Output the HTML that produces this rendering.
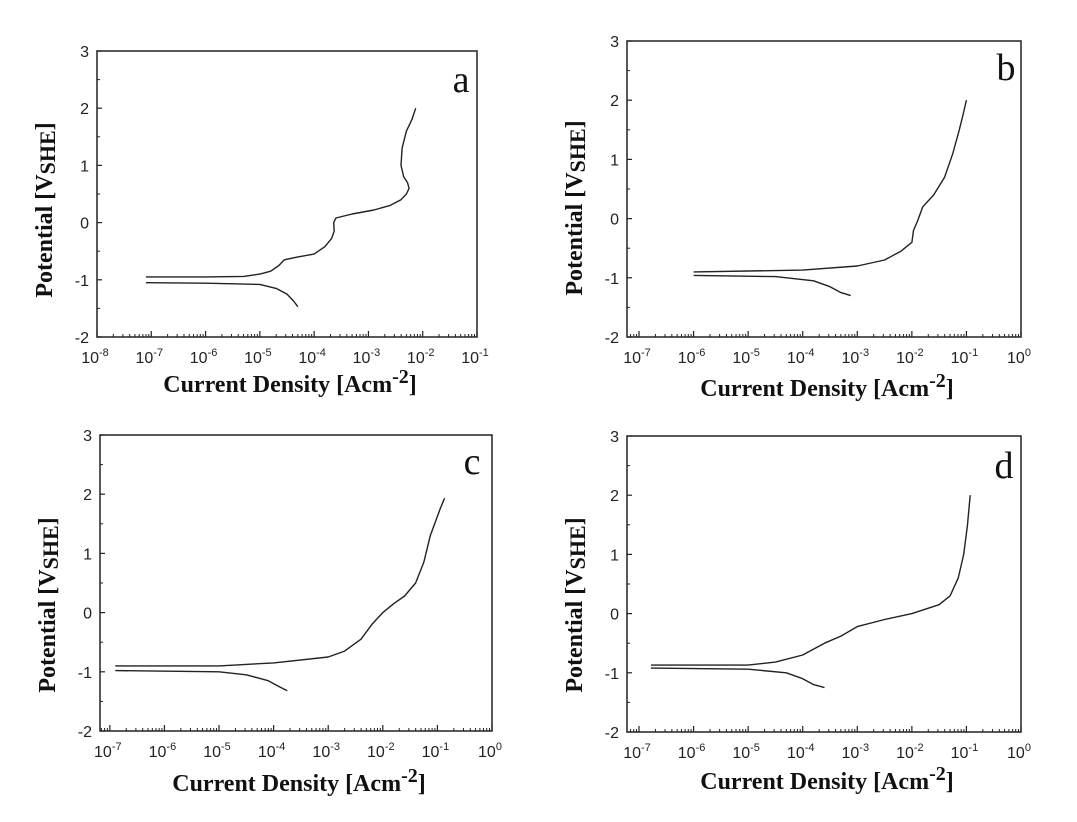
<!DOCTYPE html>
<html><head><meta charset="utf-8">
<style>
html,body{margin:0;padding:0;background:#fff;}
svg{display:block;}
.tick{font-family:"Liberation Sans",sans-serif;font-size:16px;fill:#222;}
.title{font-family:"Liberation Serif",serif;font-weight:bold;font-size:24px;fill:#111;}
.letter{font-family:"Liberation Serif",serif;font-size:38px;fill:#111;}
</style></head>
<body>
<svg id="fig" width="1077" height="822" viewBox="0 0 1077 822" xmlns="http://www.w3.org/2000/svg"></svg>
<script>
// Panel a data (log10 current, potential V)
const aUpperX = [-7.1,-6,-5.3,-5.0,-4.8,-4.65,-4.55,-4.3,-4.0,-3.8,-3.68,-3.63,-3.64,-3.6,-3.3,-2.9,-2.6,-2.4,-2.3,-2.25,-2.28,-2.35,-2.4,-2.38,-2.3,-2.2,-2.13];
const aUpperY = [-0.95,-0.95,-0.94,-0.9,-0.85,-0.75,-0.65,-0.6,-0.55,-0.42,-0.28,-0.15,0.0,0.08,0.15,0.22,0.3,0.4,0.5,0.6,0.7,0.8,1.0,1.3,1.6,1.8,2.0];
const aLowerX = [-7.1,-6,-5,-4.7,-4.5,-4.38,-4.3];
const aLowerY = [-1.05,-1.06,-1.08,-1.15,-1.25,-1.37,-1.47];
// Panel b
const bUpperX = [-6,-4,-3,-2.5,-2.2,-2.0,-1.97,-1.9,-1.8,-1.6,-1.4,-1.25,-1.13,-1.05,-1.0];
const bUpperY = [-0.9,-0.87,-0.8,-0.7,-0.55,-0.4,-0.2,-0.05,0.2,0.4,0.7,1.1,1.5,1.8,2.0];
const bLowerX = [-6,-4.5,-3.8,-3.5,-3.3,-3.12];
const bLowerY = [-0.96,-0.98,-1.05,-1.15,-1.25,-1.3];
// Panel c
const cUpperX = [-6.9,-5,-4,-3,-2.7,-2.4,-2.2,-2.0,-1.8,-1.6,-1.4,-1.25,-1.13,-0.95,-0.87];
const cUpperY = [-0.9,-0.9,-0.85,-0.75,-0.65,-0.45,-0.2,0.0,0.15,0.28,0.5,0.85,1.3,1.75,1.93];
const cLowerX = [-6.9,-5,-4.5,-4.1,-3.9,-3.75];
const cLowerY = [-0.98,-1.0,-1.05,-1.15,-1.25,-1.32];
// Panel d
const dUpperX = [-6.78,-5,-4.5,-4,-3.6,-3.3,-3.0,-2.5,-2.0,-1.5,-1.3,-1.15,-1.05,-0.98,-0.93];
const dUpperY = [-0.87,-0.87,-0.82,-0.7,-0.5,-0.38,-0.22,-0.1,0.0,0.15,0.3,0.6,1.0,1.5,2.0];
const dLowerX = [-6.78,-5,-4.3,-4.0,-3.8,-3.6];
const dLowerY = [-0.92,-0.94,-1.0,-1.1,-1.2,-1.25];
const yTicks = [-2,-1,0,1,2,3];

const NS = "http://www.w3.org/2000/svg";
const svg = document.getElementById('fig');
function mk(tag, attrs, parent){ const e=document.createElementNS(NS,tag); for(const k in attrs) e.setAttribute(k,attrs[k]); (parent||svg).appendChild(e); return e; }

const panels = [
 {id:'a', L:97, R:477, T:51, B:337, xmin:-8, xmax:-1, up:[aUpperX,aUpperY], lo:[aLowerX,aLowerY], yl:52, ylc:210, xt:392, lx:461, ly:92},
 {id:'b', L:627, R:1021, T:41, B:337, xmin:-7.22, xmax:0, up:[bUpperX,bUpperY], lo:[bLowerX,bLowerY], yl:582, ylc:208, xt:396, lx:1006, ly:80},
 {id:'c', L:100, R:492, T:435, B:731, xmin:-7.18, xmax:0, up:[cUpperX,cUpperY], lo:[cLowerX,cLowerY], yl:55, ylc:605, xt:791, lx:472, ly:474},
 {id:'d', L:627, R:1021, T:436, B:732, xmin:-7.22, xmax:0, up:[dUpperX,dUpperY], lo:[dLowerX,dLowerY], yl:582, ylc:605, xt:789, lx:1004, ly:478}
];

panels.forEach(p=>{
  const g = mk('g',{});
  
  
  const sx = v => p.L + (v-p.xmin)/(p.xmax-p.xmin)*(p.R-p.L);
  const sy = v => p.B - (v+2)/5*(p.B-p.T);
  const box = mk('rect',{x:p.L,y:p.T,width:p.R-p.L,height:p.B-p.T,fill:'none',stroke:'#222','stroke-width':1.5},g);
  
  
  yTicks.forEach(v=>{
    const y=sy(v);
    mk('line',{x1:p.L,x2:p.L+5,y1:y,y2:y,stroke:'#222','stroke-width':1.2},g);
    if(v<3){ const ym=sy(v+0.5); mk('line',{x1:p.L,x2:p.L+3,y1:ym,y2:ym,stroke:'#222','stroke-width':1},g); }
    const t=mk('text',{x:p.L-8,y:y+6,'text-anchor':'end',class:'tick'},g);
    t.textContent = v<0 ? '-'+Math.abs(v) : String(v);
    
    
  });
  for(let d=Math.floor(p.xmin); d<=p.xmax; d++){
    if(d>=p.xmin-0.001){
      const x=sx(d);
      mk('line',{x1:x,x2:x,y1:p.B,y2:p.B-6,stroke:'#222','stroke-width':1.2},g);
      const t=mk('text',{x:x-2,y:p.B+26,'text-anchor':'middle',class:'tick'},g);
      t.textContent='10';
      const s=mk('tspan',{dy:-7,'font-size':'11px'},t); s.textContent = d===0?'0':String(d);
      
      
    }
    if(d<p.xmax){
      for(let m=2;m<=9;m++){
        const lv=d+Math.log10(m);
        if(lv<p.xmin||lv>p.xmax) continue;
        const x=sx(lv);
        mk('line',{x1:x,x2:x,y1:p.B,y2:p.B-3,stroke:'#222','stroke-width':1},g);
      }
    }
  }
  [['anodic-curve',p.up],['cathodic-curve',p.lo]].forEach(([nm,[xs,ys]])=>{
    let dstr='';
    xs.forEach((v,i)=>{ dstr += (i?'L':'M')+sx(v).toFixed(1)+' '+sy(ys[i]).toFixed(1); });
    const path=mk('path',{d:dstr,fill:'none',stroke:'#222','stroke-width':1.4,'stroke-linejoin':'round'},g);
    
    
  });
  const xt=mk('text',{x:(p.L+p.R)/2+3,y:p.xt,'text-anchor':'middle',class:'title'},g);
  xt.textContent='Current Density [Acm';
  const sup=mk('tspan',{dy:-9,'font-size':'20px'},xt); sup.textContent='-2';
  const cl=mk('tspan',{dy:9},xt); cl.textContent=']';
  
  
  const yt=mk('text',{x:0,y:0,'text-anchor':'middle',class:'title',transform:`translate(${p.yl},${p.ylc}) rotate(-90)`},g);
  yt.textContent='Potential [V';
  const sb=mk('tspan',{'font-size':'22px',dy:3},yt); sb.textContent='SHE';
  const cb=mk('tspan',{dy:-3},yt); cb.textContent=']';
  
  
  const lt=mk('text',{x:p.lx,y:p.ly,'text-anchor':'middle',class:'letter'},g);
  lt.textContent=p.id;
  
  
});
</script>
</body></html>
